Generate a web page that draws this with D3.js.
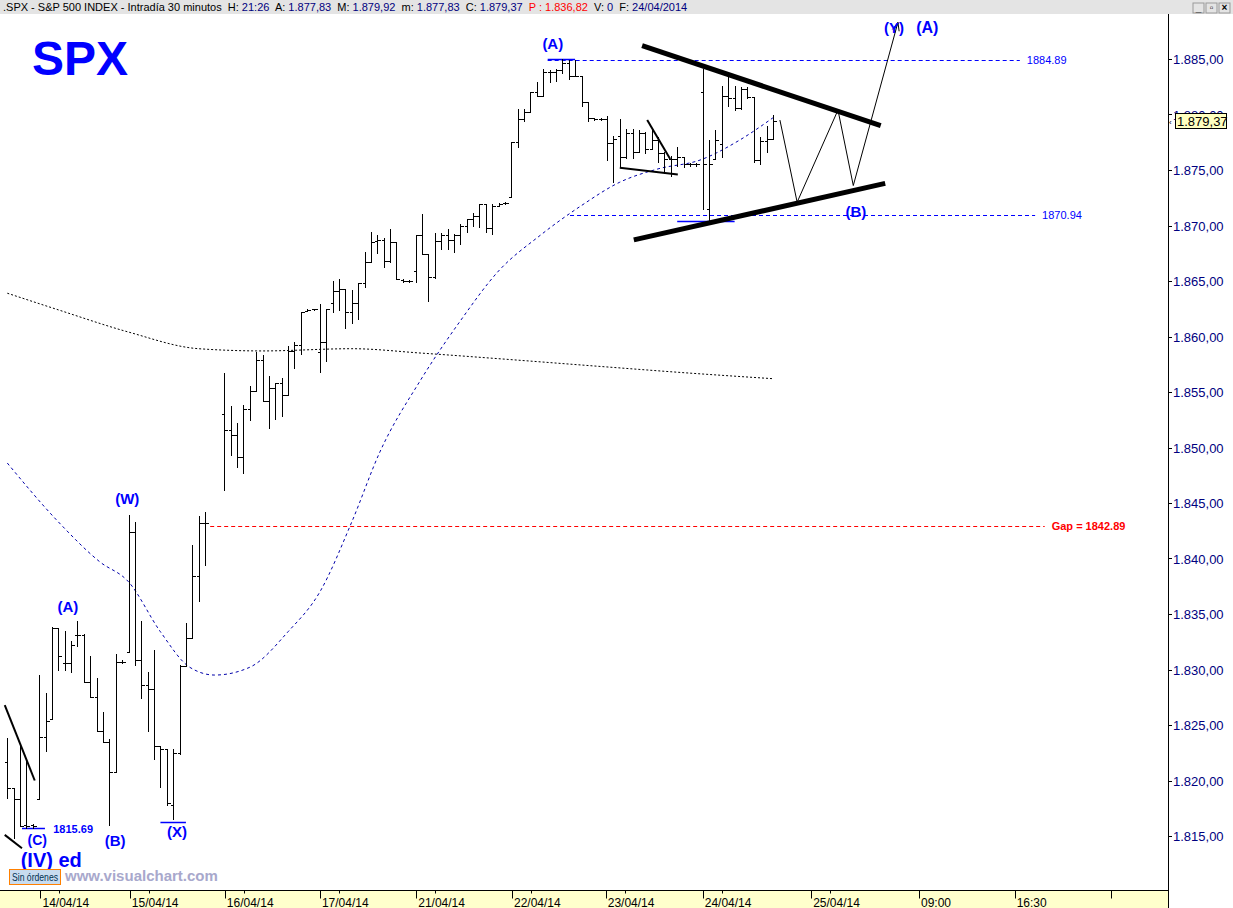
<!DOCTYPE html>
<html>
<head>
<meta charset="utf-8">
<script src="https://cdn.jsdelivr.net/npm/d3@7"></script>
<style>
  body { margin: 0; background: #fff; }
  svg { display: block; font-family: "Liberation Sans", Arial, sans-serif; }
</style>
</head>
<body>
<svg id="chart"></svg>
<script>
// 30 minute bars, [open, high, low, close]; null = empty slot
const bars = [
  [1821.7,1823.8,1818.4,1819.3],[1819.3,1819.3,1814.8,1818.3],[1818.3,1823.1,1815.9,1815.9],
  [1816.0,1821.9,1815.7,1815.9],[1816.0,1816.1,1815.7,1815.9],[1818.3,1829.5,1818.3,1823.9],
  [1823.9,1827.9,1822.7,1825.4],[1825.5,1833.8,1825.5,1833.7],[1833.7,1833.7,1830.0,1831.2],
  [1830.6,1833.5,1830.0,1830.6],[1830.6,1832.6,1829.8,1832.2],[1833.1,1834.4,1832.1,1833.1],
  [1833.1,1833.2,1828.9,1828.9],[1828.9,1831.2,1827.5,1827.5],[1827.5,1829.2,1824.5,1824.5],
  [1824.5,1826.2,1823.5,1823.5],[1823.5,1823.7,1816.0,1820.8],[1820.8,1831.4,1820.8,1830.7],
  [1830.7,1830.9,1830.6,1830.7],[1831.6,1843.9,1831.6,1842.4],[1842.4,1843.3,1830.4,1830.9],
  [1830.9,1834.4,1827.4,1828.6],[1828.6,1829.8,1824.5,1828.2],[1828.2,1831.8,1821.9,1823.1],
  [1823.1,1823.1,1819.4,1822.8],[1822.8,1822.8,1817.8,1818.0],[1817.8,1822.8,1816.5,1822.5],
  [1822.5,1830.4,1822.4,1830.3],[1830.3,1834.2,1830.3,1832.8],[1832.8,1841.2,1832.8,1838.4],
  [1838.4,1843.8,1836.2,1843.2],[1843.2,1844.2,1839.4,1843.2],
  null, null,
  [1853.0,1856.7,1846.2,1851.6],[1851.6,1853.7,1849.3,1851.1],[1851.1,1852.2,1848.2,1849.1],
  [1849.1,1853.8,1847.7,1853.5],[1853.5,1855.5,1852.5,1855.1],[1855.1,1858.6,1855.1,1857.9],
  [1857.9,1858.3,1854.2,1854.2],[1854.2,1856.4,1851.8,1855.4],[1855.4,1855.8,1852.6,1855.8],
  [1855.8,1856.3,1852.8,1854.7],[1854.7,1859.1,1854.7,1858.7],[1858.7,1859.5,1857.2,1859.2],
  [1859.2,1862.2,1858.4,1862.2],[1862.3,1862.5,1862.3,1862.4],[1862.5,1862.5,1862.4,1862.5],
  [1858.6,1862.9,1856.8,1859.5],[1859.5,1862.5,1857.8,1862.5],[1863.0,1865.0,1862.2,1864.1],
  [1864.1,1865.2,1862.4,1864.3],[1864.3,1864.3,1860.8,1862.2],[1862.2,1864.2,1861.2,1863.0],
  [1863.0,1864.8,1861.6,1864.8],[1864.8,1867.6,1864.5,1866.7],[1866.7,1869.4,1866.7,1868.5],
  [1868.6,1869.1,1867.5,1868.7],[1868.7,1868.9,1866.3,1866.8],[1866.8,1869.7,1866.7,1868.5],
  [1868.5,1868.5,1865.2,1865.2],[1865.1,1865.2,1864.9,1865.0],[1865.0,1865.1,1864.9,1865.0],
  [1865.9,1869.1,1864.9,1869.1],[1869.1,1871.0,1867.4,1867.4],[1867.4,1867.4,1863.2,1865.4],
  [1865.4,1869.3,1865.3,1868.6],[1868.6,1869.3,1867.9,1869.1],[1869.1,1869.7,1867.9,1868.7],
  [1868.7,1869.2,1867.6,1869.1],[1869.1,1870.1,1868.3,1870.0],[1870.0,1870.6,1869.4,1870.6],
  [1870.6,1871.1,1870.0,1870.9],[1870.9,1871.9,1869.9,1871.9],[1871.9,1871.9,1869.4,1869.8],
  [1869.8,1871.9,1869.2,1871.8],[1871.8,1872.0,1871.8,1871.9],[1872.0,1872.1,1871.9,1872.0],
  [1872.6,1877.5,1872.6,1877.5],[1877.5,1880.5,1877.1,1879.6],[1879.6,1880.5,1879.4,1880.2],
  [1880.2,1882.0,1880.2,1882.0],[1882.0,1882.9,1881.7,1881.7],[1881.7,1884.1,1881.7,1883.8],
  [1883.8,1884.0,1882.9,1883.8],[1883.8,1884.1,1883.0,1884.0],[1884.0,1885.0,1883.7,1884.6],
  [1884.6,1884.9,1883.2,1883.5],[1883.5,1884.9,1883.5,1883.5],[1883.5,1883.5,1880.8,1881.1],
  [1881.1,1881.1,1879.4,1879.7],[1879.7,1879.7,1879.5,1879.6],[1879.6,1879.7,1879.5,1879.6],
  [1879.6,1879.9,1875.9,1877.4],[1877.4,1878.1,1873.9,1877.8],[1878.1,1879.6,1875.3,1876.2],
  [1876.2,1878.7,1876.1,1878.3],[1878.3,1878.7,1876.1,1876.6],[1876.6,1878.6,1876.6,1878.3],
  [1878.3,1878.4,1876.5,1876.9],[1876.9,1878.6,1876.9,1877.7],[1877.7,1878.0,1875.7,1876.5],
  [1876.5,1876.6,1874.7,1876.0],[1876.0,1876.3,1874.5,1876.0],[1876.0,1877.1,1875.4,1876.2],
  [1876.2,1876.2,1875.3,1875.5],[1875.5,1875.6,1875.4,1875.5],[1875.5,1875.6,1875.4,1875.5],
  [1882.0,1884.1,1871.5,1875.5],[1871.5,1877.7,1870.2,1875.5],[1876.0,1878.6,1876.0,1877.7],
  [1877.3,1882.6,1876.2,1881.7],[1881.7,1883.4,1880.8,1881.5],[1881.5,1882.6,1880.4,1880.6],
  [1880.6,1882.5,1880.5,1882.3],[1882.3,1882.5,1881.5,1881.6],[1881.6,1881.6,1875.7,1875.9],
  [1875.9,1878.0,1875.5,1877.6],[1877.6,1879.0,1876.6,1877.8],[1877.83,1879.92,1877.83,1879.37]
];
const lastPrice = 1879.37;

// moving averages sampled at [slot, price]
const maSlow = [[0,1863.9],[8,1862.4],[19,1860.4],[30,1858.9],[40,1858.7],[54,1858.9],
  [65,1858.5],[77,1858.0],[93,1857.3],[107,1856.7],[120,1856.2]];
const maFast = [[0,1848.6],[8,1843.3],[14.5,1839.7],[19,1837.9],[24,1833.4],[28.6,1830.2],
  [32.5,1829.5],[38,1830.2],[44,1833.4],[49,1837.0],[54,1843.3],[58.4,1849.6],[64.7,1856.0],
  [71,1861.4],[77,1865.9],[83.5,1869.1],[90,1871.8],[96,1873.9],[102,1875.1],[108.6,1875.9],
  [114.8,1877.7],[120,1879.7]];

const priceTicks = d3.range(1815, 1886, 5);
const dayTicks = [[5.2,"14/04/14"],[19.2,"15/04/14"],[34.1,"16/04/14"],[49,"17/04/14"],
  [64.1,"21/04/14"],[79.1,"22/04/14"],[93.8,"23/04/14"],[109,"24/04/14"],[126,"25/04/14"],
  [142.9,"09:00"],[157.9,"16:30"],[173,""]];

// [slot from, slot to, price, label, colour]
const levels = [[84.7,158.7,1884.89,"1884.89","#0000ff"],[88.2,161.1,1870.94,"1870.94","#0000ff"],
  [31.8,162.6,1842.89,"Gap = 1842.89","#ff0000"]];
const marks = [[84.7,89,1885.0],[24,28,1816.3],[2.3,5.9,1815.7],[105,114,1870.4]];

// trend lines [[slot, price],[slot, price], width]
const thickLines = [[[99.5,1886.2],[136.9,1879.0],5],[[98.2,1868.7],[137.6,1873.8],5],
  [[100.3,1879.5],[103.9,1876.0],2],[[96,1875.2],[105.1,1874.6],2],
  [[-0.4,1826.8],[4.3,1820.0],2],[[-0.4,1815.1],[2.3,1813.9],2]];
const projection = [[121.1,1879.5],[123.8,1872.1],[130.2,1880.4],[132.6,1873.6],[139.6,1888.3]];

// [text, slot, price, size, anchor]
const waveLabels = [["(A)",85.5,1885.9,15,"middle"],["(Y)",139.0,1887.3,15,"middle"],
  ["(A)",144.2,1887.3,16,"middle"],["(B)",133,1870.8,15,"middle"],
  ["(W)",18.8,1844.9,15,"middle"],["(A)",9.5,1835.2,15,"middle"],
  ["(C)",4.7,1814.2,14,"middle"],["(B)",16.9,1814.1,15,"middle"],
  ["(X)",26.6,1814.9,15,"middle"],["1815.69",7.2,1815.3,11,"start"],
  ["(IV) ed",2.1,1812.2,20,"start"]];

const W = 1233, H = 908, plotRight = 1168, axisY = 890.5;

const svg = d3.select("#chart").attr("width", W).attr("height", H);

const x = d3.scaleLinear().domain([0, 120]).range([7.3, 772.9]);
const y = d3.scaleLinear().domain([1815, 1885]).range([836, 59]);

// header
svg.append("rect").attr("width", W).attr("height", 14).attr("fill", "#e4e4e4");
const head = svg.append("text").attr("x", 3).attr("y", 11).attr("font-size", 11);
[[".SPX - S&P 500 INDEX - Intradía 30 minutos  H: ","#000"],["21:26","#00007f"],["  A: ","#000"],
 ["1.877,83","#00007f"],["  M: ","#000"],["1.879,92","#00007f"],["  m: ","#000"],["1.877,83","#00007f"],
 ["  C: ","#000"],["1.879,37","#00007f"],["  P : 1.836,82","#ff0000"],["  V: ","#000"],["0","#00007f"],
 ["  F: ","#000"],["24/04/2014","#00007f"]].forEach(([t, c]) => {
  head.append("tspan").attr("fill", c).attr("xml:space", "preserve").text(t);
});
["_","▫","×"].forEach((t, i) => {
  svg.append("rect").attr("x", 1193 + i * 13).attr("y", 3).attr("width", 11).attr("height", 10)
    .attr("fill", "#e4e4e4").attr("stroke", "#999");
  svg.append("text").attr("x", 1198.5 + i * 13).attr("y", 11).attr("text-anchor", "middle")
    .attr("font-size", 10).attr("font-weight", "bold").text(t);
});

// x axis band
svg.append("rect").attr("x", 0).attr("y", axisY).attr("width", plotRight).attr("height", H - axisY)
  .attr("fill", "#ffffcc");
svg.append("line").attr("x1", 0).attr("x2", plotRight).attr("y1", axisY).attr("y2", axisY)
  .attr("stroke", "#000");
svg.append("line").attr("x1", plotRight + 0.5).attr("x2", plotRight + 0.5).attr("y1", 14).attr("y2", H)
  .attr("stroke", "#000");

const xt = svg.selectAll(".xt").data(dayTicks).enter().append("g").attr("class", "xt");
xt.append("line").attr("x1", d => Math.round(x(d[0])) + 0.5).attr("x2", d => Math.round(x(d[0])) + 0.5)
  .attr("y1", axisY).attr("y2", axisY + 8).attr("stroke", "#000");
xt.filter(d => d[1].includes("/")).append("line")
  .attr("x1", d => Math.round(x(d[0]) + 19) + 0.5).attr("x2", d => Math.round(x(d[0]) + 19) + 0.5)
  .attr("y1", axisY).attr("y2", axisY + 3).attr("stroke", "#000");
xt.append("text").attr("x", d => x(d[0]) + 2).attr("y", axisY + 16).attr("font-size", 12)
  .text(d => d[1]);

// y axis (the 1.880 label sits under the last price box, as in the original)
const fmt = v => d3.format(",.2f")(v).replace(/,/g, "#").replace(".", ",").replace(/#/g, ".");
const yt = svg.selectAll(".yt").data(priceTicks).enter().append("g").attr("class", "yt");
yt.append("line").attr("x1", plotRight).attr("x2", plotRight + 4)
  .attr("y1", d => Math.round(y(d)) + 0.5).attr("y2", d => Math.round(y(d)) + 0.5).attr("stroke", "#000");
yt.append("text").attr("x", plotRight + 5).attr("y", d => y(d) + 5).attr("font-size", 13)
  .attr("fill", "#00007f").text(fmt);

// title
svg.append("text").attr("x", 32).attr("y", 75).attr("font-size", 48).attr("font-weight", "bold")
  .attr("fill", "#0000ff").text("SPX");

// moving averages
const line = d3.line().x(d => x(d[0])).y(d => y(d[1])).curve(d3.curveMonotoneX);
svg.append("path").attr("d", line(maSlow)).attr("fill", "none").attr("stroke", "#000")
  .attr("stroke-dasharray", "2,2");
svg.append("path").attr("d", line(maFast)).attr("fill", "none").attr("stroke", "#0000aa")
  .attr("stroke-dasharray", "3,3");

// level lines
levels.forEach(([a, b, v, t, c]) => {
  svg.append("line").attr("x1", x(a)).attr("x2", x(b)).attr("y1", Math.round(y(v)) + 0.5)
    .attr("y2", Math.round(y(v)) + 0.5).attr("stroke", c).attr("stroke-dasharray", "4,3");
  svg.append("text").attr("x", x(b) + 7).attr("y", y(v) + 4).attr("font-size", 11)
    .attr("font-weight", c === "#ff0000" ? "bold" : "normal").attr("fill", c).text(t);
});
marks.forEach(([a, b, v]) => {
  svg.append("line").attr("x1", x(a)).attr("x2", x(b)).attr("y1", Math.round(y(v)) + 0.5)
    .attr("y2", Math.round(y(v)) + 0.5).attr("stroke", "#0000ff").attr("stroke-width", 1.5);
});

// bars
const g = svg.append("g").attr("stroke", "#000").attr("shape-rendering", "crispEdges");
bars.forEach((b, i) => {
  if (!b) return;
  const cx = Math.round(x(i)) + 0.5;
  g.append("line").attr("x1", cx).attr("x2", cx).attr("y1", y(b[1])).attr("y2", y(b[2]) + 1)
    .attr("stroke-width", 1.6);
  g.append("line").attr("x1", cx - 3).attr("x2", cx).attr("y1", Math.round(y(b[0])) + 0.5)
    .attr("y2", Math.round(y(b[0])) + 0.5);
  g.append("line").attr("x1", cx).attr("x2", cx + 3).attr("y1", Math.round(y(b[3])) + 0.5)
    .attr("y2", Math.round(y(b[3])) + 0.5);
});

// trend lines and projection
thickLines.forEach(([p, q, w]) => {
  svg.append("line").attr("x1", x(p[0])).attr("y1", y(p[1])).attr("x2", x(q[0])).attr("y2", y(q[1]))
    .attr("stroke", "#000").attr("stroke-width", w);
});
svg.append("path").attr("d", d3.line().x(d => x(d[0])).y(d => y(d[1]))(projection))
  .attr("fill", "none").attr("stroke", "#000").attr("stroke-width", 1);
const pe = projection[projection.length - 1], pb = projection[projection.length - 2];
const ang = Math.atan2(y(pe[1]) - y(pb[1]), x(pe[0]) - x(pb[0]));
const ex = x(pe[0]), ey = y(pe[1]);
svg.append("path")
  .attr("d", `M${ex - 9 * Math.cos(ang - 0.4)},${ey - 9 * Math.sin(ang - 0.4)}L${ex},${ey}L${ex - 9 * Math.cos(ang + 0.4)},${ey - 9 * Math.sin(ang + 0.4)}`)
  .attr("fill", "none").attr("stroke", "#000");

// wave labels
waveLabels.forEach(([t, s, v, fs, an]) => {
  svg.append("text").attr("x", x(s)).attr("y", y(v)).attr("font-size", fs).attr("font-weight", "bold")
    .attr("text-anchor", an).attr("fill", "#0000ff").text(t);
});

// last price box
svg.append("rect").attr("x", 1175.5).attr("y", Math.round(y(lastPrice)) - 7.5).attr("width", 51).attr("height", 15)
  .attr("fill", "#ffffc0").attr("stroke", "#000");
svg.append("text").attr("x", 1177).attr("y", y(lastPrice) + 5).attr("font-size", 13).text(fmt(lastPrice));
svg.append("text").attr("x", 1169).attr("y", y(lastPrice) + 4).attr("font-size", 8).text("‹");

// footer
svg.append("rect").attr("x", 9.5).attr("y", 869.5).attr("width", 51).attr("height", 15)
  .attr("fill", "#c8dcf0").attr("stroke", "#ff8000");
svg.append("text").attr("x", 12).attr("y", 881).attr("font-size", 10).attr("textLength", 46)
  .attr("lengthAdjust", "spacingAndGlyphs").attr("fill", "#003050").text("Sin órdenes");
svg.append("text").attr("x", 65).attr("y", 881).attr("font-size", 15).attr("font-weight", "bold")
  .attr("fill", "#a8a8cc").text("www.visualchart.com");
</script>
</body>
</html>
